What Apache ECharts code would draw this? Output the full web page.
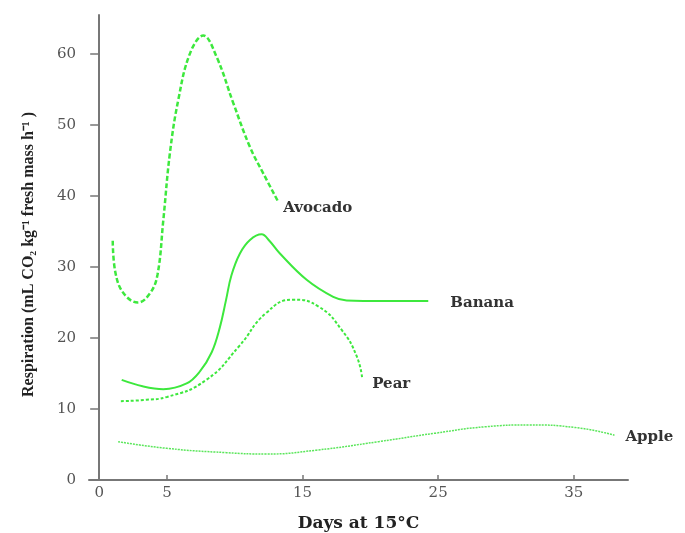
<!DOCTYPE html>
<html>
<head>
<meta charset="utf-8">
<script src="https://cdn.jsdelivr.net/npm/echarts@6/dist/echarts.min.js"></script>
<style>
  html, body { margin: 0; padding: 0; background: #fff; }
  #chart { width: 685px; height: 533px; }
</style>
</head>
<body>
<div id="chart"></div>
<script>
// values
const avocadoDays = [1.0, 1.2, 1.8, 2.85, 3.75, 4.3, 4.73, 5.22, 5.83, 6.7, 7.68, 8.66, 9.89, 11.12, 12.1, 13.2];
const avocadoResp = [33.7, 29.2, 26.3, 25.0, 26.3, 28.9, 36.6, 46.1, 53.5, 60.1, 62.6, 59.6, 53.1, 46.9, 43.2, 39.2];

const bananaDays = [1.66, 3.2, 4.73, 6.45, 7.43, 8.3, 8.9, 9.35, 9.75, 10.38, 11.12, 11.98, 12.55, 13.33, 15.3, 17.26, 18.25, 21.0, 24.27];
const bananaResp = [14.1, 13.2, 12.8, 13.6, 15.3, 18.0, 21.5, 25.3, 28.8, 31.9, 33.8, 34.6, 33.7, 31.9, 28.2, 25.8, 25.3, 25.2, 25.2];

const pearDays = [1.6, 3.5, 5.0, 7.9, 10.3, 12.3, 14.3, 16.2, 17.9, 19.0, 19.4];
const pearResp = [11.1, 11.3, 11.7, 14.1, 18.8, 23.5, 25.4, 24.4, 21.1, 17.4, 14.3];

const appleDays = [1.4, 5.0, 9.4, 12.3, 16.0, 20.6, 24.8, 28.5, 31.7, 35.1, 38.0];
const appleResp = [5.4, 4.46, 3.85, 3.66, 4.2, 5.4, 6.6, 7.5, 7.75, 7.4, 6.3];

const xLabelValues = [0, 5, 15, 25, 35];
const xTickValues = [5, 15, 25, 35];

const green = '#3de83d';
const serif = '"DejaVu Serif", "Liberation Serif", serif';

const zip = (xs, ys) => xs.map((x, i) => [x, ys[i]]);

const labelStyle = (distance, dy) => ({
    show: true,
    formatter: '{a}',
    distance: distance,
    offset: [0, dy],
    color: '#333',
    fontFamily: serif,
    fontWeight: 'bold',
    fontSize: 15,
});

const chart = echarts.init(document.getElementById('chart'));

const option = {
    animation: false,
    grid: {
        left: 89,
        right: 57,
        top: 15,
        bottom: 53,
        outerBoundsMode: 'none',
    },
    xAxis: {
        type: 'value',
        min: -0.75,
        max: 39,
        name: 'Days at 15°C',
        nameLocation: 'middle',
        nameGap: 35,
        nameTextStyle: {
            color: '#222',
            fontFamily: serif,
            fontWeight: 'bold',
            fontSize: 17,
        },
        axisLine: { show: true, lineStyle: { color: '#777', width: 2 } },
        axisTick: {
            show: true,
            inside: true,
            length: 5,
            customValues: xTickValues,
            lineStyle: { color: '#777', width: 1.5 },
        },
        axisLabel: {
            customValues: xLabelValues,
            margin: 6,
            color: '#555',
            fontFamily: serif,
            fontSize: 15,
        },
        splitLine: { show: false },
    },
    yAxis: {
        type: 'value',
        min: 0,
        max: 65.5,
        interval: 10,
        name: 'Respiration (mL CO₂ kg⁻¹ fresh mass h⁻¹ )',
        nameLocation: 'middle',
        nameGap: 52,
        nameTextStyle: {
            color: '#222',
            fontFamily: '"Liberation Serif", serif',
            fontWeight: 'bold',
            fontSize: 16,
            padding: [0, 14, 0, 0],
        },
        axisLine: { show: true, lineStyle: { color: '#777', width: 2 } },
        axisTick: {
            show: true,
            length: 9,
            lineStyle: { color: '#777', width: 1.5 },
        },
        axisLabel: {
            margin: 13,
            color: '#555',
            fontFamily: serif,
            fontSize: 15,
            showMaxLabel: false,
        },
        splitLine: { show: false },
    },
    series: [
        {
            name: 'Avocado',
            type: 'line',
            smooth: 0.4,
            showSymbol: false,
            data: zip(avocadoDays, avocadoResp),
            lineStyle: { color: green, width: 2.5, type: [5, 2.5] },
            endLabel: labelStyle(5, 6),
        },
        {
            name: 'Banana',
            type: 'line',
            smooth: 0.4,
            showSymbol: false,
            data: zip(bananaDays, bananaResp),
            lineStyle: { color: green, width: 2 },
            endLabel: labelStyle(22, 2),
        },
        {
            name: 'Pear',
            type: 'line',
            smooth: 0.5,
            showSymbol: false,
            data: zip(pearDays, pearResp),
            lineStyle: { color: green, width: 2, type: [3, 2] },
            endLabel: labelStyle(10, 6),
        },
        {
            name: 'Apple',
            type: 'line',
            smooth: 0.5,
            showSymbol: false,
            data: zip(appleDays, appleResp),
            lineStyle: { color: '#5be65b', width: 1.5, type: [2, 1] },
            endLabel: labelStyle(11, 2),
        },
    ],
};

chart.setOption(option);
</script>
</body>
</html>
